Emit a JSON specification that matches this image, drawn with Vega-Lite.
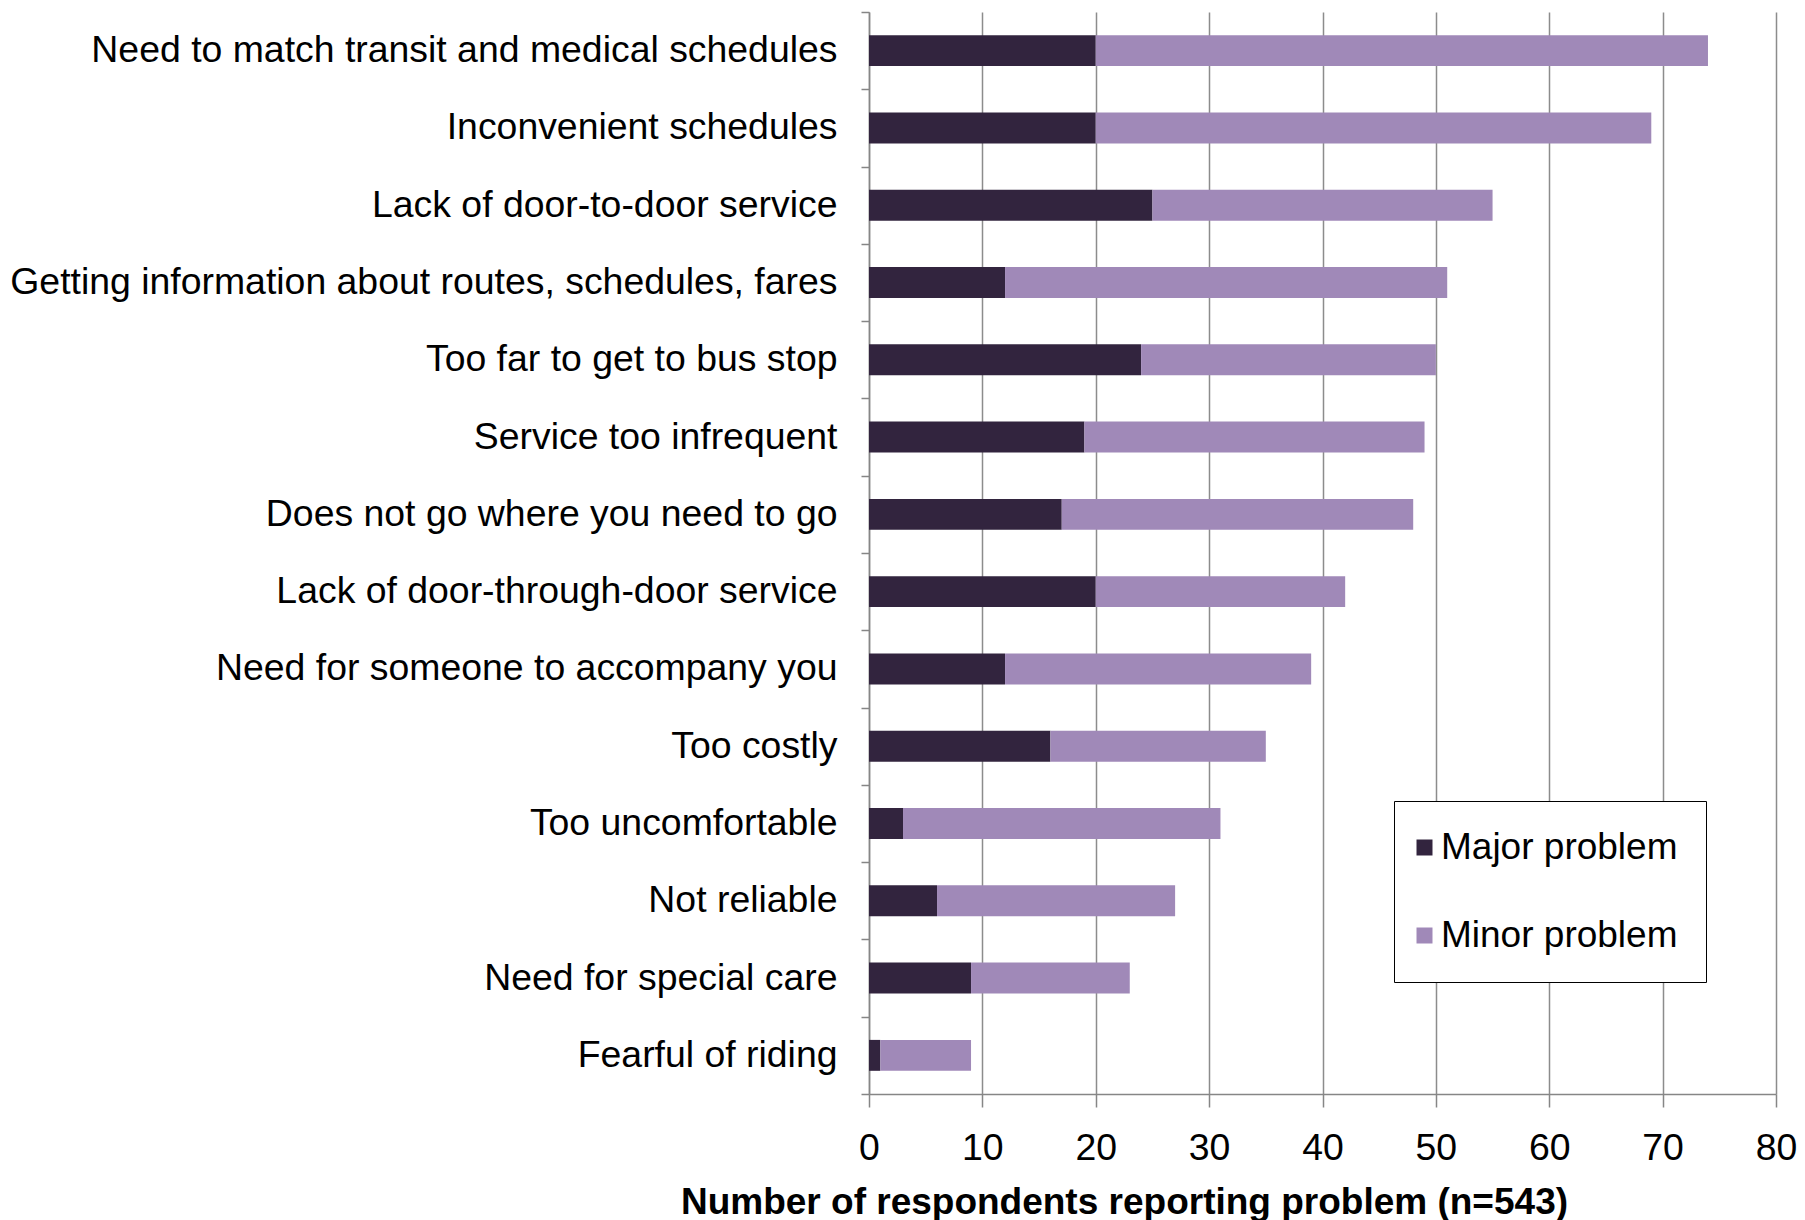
{
  "$schema": "https://vega.github.io/schema/vega-lite/v6.json",
  "autosize": {"type": "none"},
  "width": 907,
  "height": 1082,
  "padding": {"left": 869, "top": 12, "right": 29, "bottom": 126},
  "background": "white",
  "config": {
    "view": {"stroke": null},
    "font": "Liberation Sans",
    "legend": {"strokeColor": "#000000"}
  },
  "data": {
    "values": [
      {"problem": "Need to match transit and medical schedules", "type": "Major problem", "count": 20},
      {"problem": "Need to match transit and medical schedules", "type": "Minor problem", "count": 54},
      {"problem": "Inconvenient schedules", "type": "Major problem", "count": 20},
      {"problem": "Inconvenient schedules", "type": "Minor problem", "count": 49},
      {"problem": "Lack of door-to-door service", "type": "Major problem", "count": 25},
      {"problem": "Lack of door-to-door service", "type": "Minor problem", "count": 30},
      {"problem": "Getting information about routes, schedules, fares", "type": "Major problem", "count": 12},
      {"problem": "Getting information about routes, schedules, fares", "type": "Minor problem", "count": 39},
      {"problem": "Too far to get to bus stop", "type": "Major problem", "count": 24},
      {"problem": "Too far to get to bus stop", "type": "Minor problem", "count": 26},
      {"problem": "Service too infrequent", "type": "Major problem", "count": 19},
      {"problem": "Service too infrequent", "type": "Minor problem", "count": 30},
      {"problem": "Does not go where you need to go", "type": "Major problem", "count": 17},
      {"problem": "Does not go where you need to go", "type": "Minor problem", "count": 31},
      {"problem": "Lack of door-through-door service", "type": "Major problem", "count": 20},
      {"problem": "Lack of door-through-door service", "type": "Minor problem", "count": 22},
      {"problem": "Need for someone to accompany you", "type": "Major problem", "count": 12},
      {"problem": "Need for someone to accompany you", "type": "Minor problem", "count": 27},
      {"problem": "Too costly", "type": "Major problem", "count": 16},
      {"problem": "Too costly", "type": "Minor problem", "count": 19},
      {"problem": "Too uncomfortable", "type": "Major problem", "count": 3},
      {"problem": "Too uncomfortable", "type": "Minor problem", "count": 28},
      {"problem": "Not reliable", "type": "Major problem", "count": 6},
      {"problem": "Not reliable", "type": "Minor problem", "count": 21},
      {"problem": "Need for special care", "type": "Major problem", "count": 9},
      {"problem": "Need for special care", "type": "Minor problem", "count": 14},
      {"problem": "Fearful of riding", "type": "Major problem", "count": 1},
      {"problem": "Fearful of riding", "type": "Minor problem", "count": 8}
    ]
  },
  "mark": {"type": "bar", "height": {"band": 0.4}},
  "encoding": {
    "y": {
      "field": "problem",
      "type": "nominal",
      "sort": null,
      "scale": {"paddingInner": 0, "paddingOuter": 0},
      "axis": {
        "title": null,
        "grid": false,
        "tickBand": "extent",
        "domainColor": "#868686",
        "domainWidth": 1.5,
        "tickColor": "#868686",
        "tickWidth": 1.5,
        "tickSize": 8,
        "labelFontSize": 37.4,
        "labelColor": "#000000",
        "labelPadding": 24,
        "labelLimit": 1000
      }
    },
    "x": {
      "field": "count",
      "type": "quantitative",
      "stack": "zero",
      "scale": {"domain": [0, 80], "nice": false},
      "axis": {
        "values": [0, 10, 20, 30, 40, 50, 60, 70, 80],
        "grid": true,
        "gridColor": "#8c8c8c",
        "gridWidth": 1.5,
        "domainColor": "#868686",
        "domainWidth": 1.5,
        "tickColor": "#868686",
        "tickWidth": 1.5,
        "tickSize": 13,
        "labelFontSize": 37.4,
        "labelColor": "#000000",
        "labelPadding": 22,
        "labelFlush": false,
        "title": "Number of respondents reporting problem (n=543)",
        "titleFontSize": 37,
        "titleFontWeight": "bold",
        "titleColor": "#000000",
        "titleAlign": "center",
        "titleBaseline": "alphabetic",
        "titleX": 255,
        "titleY": 119
      }
    },
    "color": {
      "field": "type",
      "type": "nominal",
      "scale": {"domain": ["Major problem", "Minor problem"], "range": ["#32243e", "#a089b8"]},
      "legend": {
        "title": null,
        "orient": "none",
        "legendX": 525,
        "legendY": 789,
        "padding": 28,
        "strokeColor": "#000000",
        "fillColor": "#ffffff",
        "symbolType": "square",
        "symbolSize": 256,
        "symbolStrokeWidth": 0,
        "symbolOffset": -16,
        "labelFontSize": 37,
        "labelLimit": 1000,
        "labelColor": "#000000",
        "labelOffset": -2,
        "rowPadding": 50
      }
    },
    "order": {"field": "type", "sort": "ascending"}
  }
}
